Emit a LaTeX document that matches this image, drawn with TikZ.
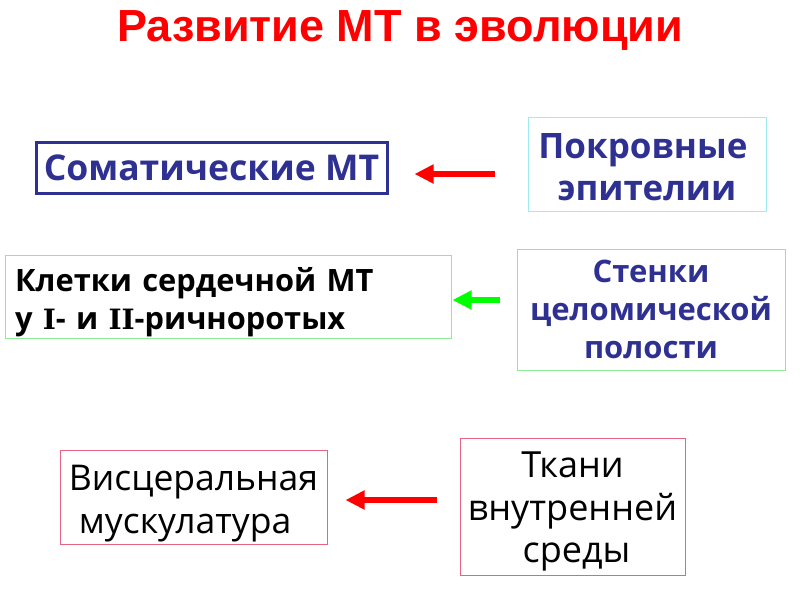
\documentclass[tikz,border=0pt]{standalone}
\usepackage{fontspec}
\setmainfont{Open Sans}
\newfontfamily\titlefont{Liberation Sans}
\newfontfamily\romfont{DejaVu Serif}
\usetikzlibrary{arrows.meta}
\definecolor{somablue}{RGB}{46,49,146}
\definecolor{cyanframe}{RGB}{160,235,240}
\definecolor{greenframe}{RGB}{140,235,150}
\definecolor{pinkframe}{RGB}{230,100,130}
\newcommand{\rom}[1]{{\romfont\fontsize{28}{38}\selectfont #1}}
\begin{document}
\begin{tikzpicture}[x=1pt,y=-1pt]
        \tikzstyle{every node}=[inner sep=0pt, font=\fontsize{30}{38}\selectfont]
        \tikzstyle{tbox}=[draw, line width=1pt]
        \tikzstyle{bluetext}=[text=somablue, align=center]
        \tikzstyle{arr}=[line width=6.5pt, -{Triangle[length=19pt, width=18pt]}]
        \useasboundingbox[fill=white] (0,0) rectangle (800,600);
        \node[text=red, font=\titlefont\fontsize{45}{50}\selectfont\bfseries] (title) at (400,31) {Развитие МТ в эволюции};
        % frames
        \node[tbox, draw=somablue, line width=3pt, minimum width=351pt, minimum height=51pt] (soma) at (211.5,167.5) {};
        \node[tbox, draw=cyanframe, minimum width=238pt, minimum height=94pt] (pokr) at (647,164) {};
        \node[tbox, draw=greenframe, minimum width=446pt, minimum height=83pt] (kletki) at (228,296.5) {};
        \node[tbox, draw=greenframe, minimum width=268pt, minimum height=121pt] (stenki) at (651,309.5) {};
        \node[tbox, draw=pinkframe, minimum width=267pt, minimum height=94pt] (visc) at (193.5,497) {};
        \node[tbox, draw=pinkframe, minimum width=225pt, minimum height=137pt] (tkani) at (572.5,506.5) {};
        % texts
        \node[bluetext, font=\fontsize{35.5}{42}\selectfont\bfseries] (somatxt) at (soma.center) {Соматические МТ};
        \node[bluetext, font=\fontsize{35}{42}\selectfont\bfseries] (pokrtxt) at ([yshift=-3pt]pokr.center) {Покровные\hspace*{8pt}\\ эпителии};
        \node[align=left, text width=426pt, font=\fontsize{30.8}{38}\selectfont\bfseries] (kletkitxt) at ([yshift=-6pt]kletki.center) {Клетки сердечной МТ\\ у \rom{I}- и \rom{II}-ричноротых};
        \node[bluetext, font=\fontsize{31}{38}\selectfont\bfseries] (stenkitxt) at (stenki.center) {Стенки\\ целомической\\ полости};
        \node[align=left, font=\fontsize{35.5}{43}\selectfont] (visctxt) at ([yshift=-7pt]visc.center) {Висцеральная\\ \hspace*{10pt}мускулатура};
        \node[align=center, font=\fontsize{36}{42.5}\selectfont] (tkanitxt) at ([yshift=-5pt]tkani.center) {Ткани\\ внутренней\\ \hspace*{8pt}среды};
        % arrows
        \draw[arr, red, shorten <=33pt, shorten >=26pt] ([yshift=-10pt]pokr.west) -- ([yshift=-10pt]pokr.west -| soma.east);
        \draw[arr, green, shorten <=17pt, shorten >=1pt] ([yshift=9.5pt]stenki.west) -- ([yshift=9.5pt]stenki.west -| kletki.east);
        \draw[arr, red, shorten <=23pt, shorten >=18pt] ([yshift=6.5pt]tkani.west) -- ([yshift=6.5pt]tkani.west -| visc.east);
\end{tikzpicture}
\end{document}
